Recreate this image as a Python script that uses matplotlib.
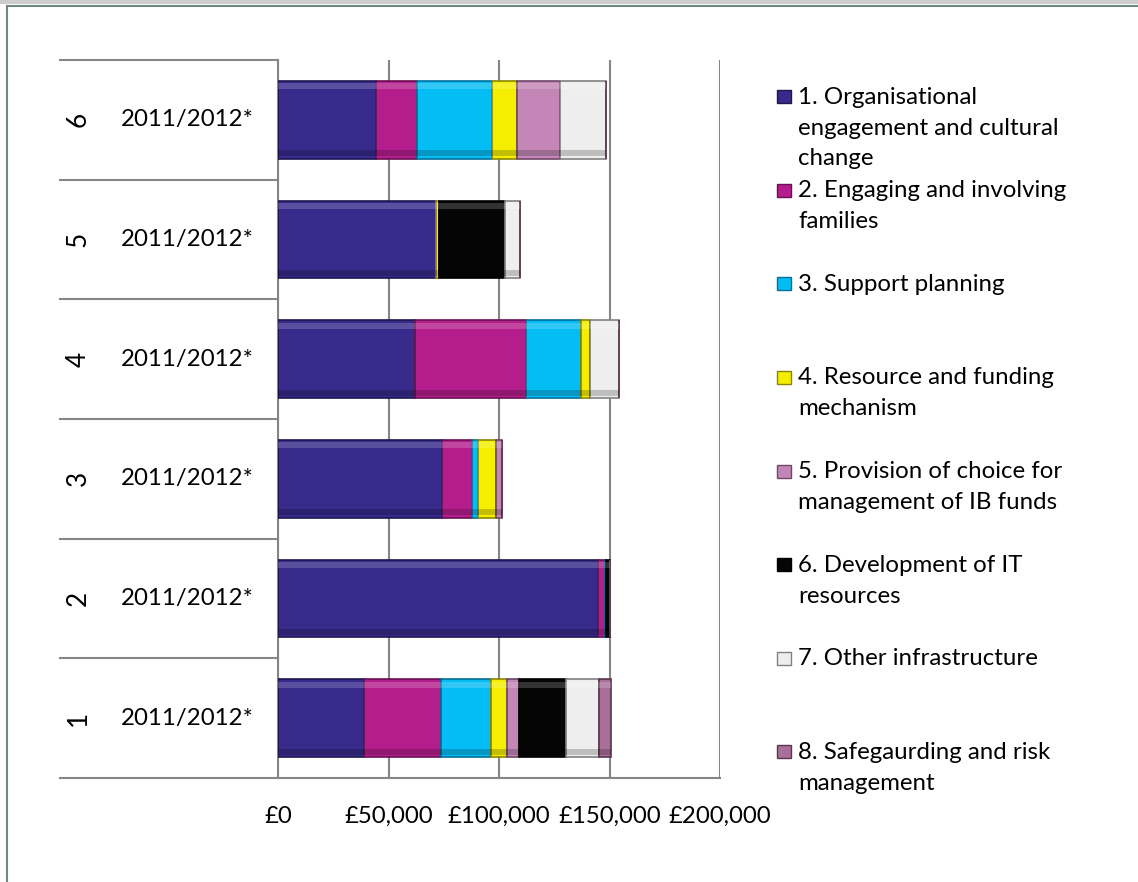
import numpy as np
import matplotlib
matplotlib.use("Agg")
import matplotlib.pyplot as plt
from matplotlib.patches import Rectangle
from matplotlib.lines import Line2D
from matplotlib.ticker import FuncFormatter

plt.rcParams['font.family'] = ['Lato', 'DejaVu Sans']

# data, rows 1..6 bottom to top
rows = ["1", "2", "3", "4", "5", "6"]
year = "2011/2012*"
series = [
    "1. Organisational\nengagement and cultural\nchange",
    "2. Engaging and involving\nfamilies",
    "3. Support planning",
    "4. Resource and funding\nmechanism",
    "5. Provision of choice for\nmanagement of IB funds",
    "6. Development of IT\nresources",
    "7. Other infrastructure",
    "8. Safegaurding and risk\nmanagement",
]
s1 = [38900, 144700, 74100, 62100, 71600, 44200]
s2 = [34700, 3300, 13700, 49900, 0, 18700]
s3 = [22900, 500, 2900, 25200, 0, 34000]
s4 = [7100, 0, 8000, 3800, 1200, 11300]
s5 = [5300, 0, 2500, 0, 0, 19400]
s6 = [21200, 1800, 0, 0, 30100, 0]
s7 = [15100, 0, 0, 13300, 6600, 20800]
s8 = [5600, 0, 0, 0, 0, 0]
values = [s1, s2, s3, s4, s5, s6, s7, s8]
xticks = [0, 50000, 100000, 150000, 200000]

colors = ["#372A8A", "#B41E8C", "#05BDF5", "#F5EE00", "#C486B6", "#050505", "#EEEEEE", "#A87098"]
edges = ["#1E1650", "#6A0F52", "#037099", "#8A8600", "#6E4766", "#000000", "#808080", "#5A3550"]

fs = 17.3

fig = plt.figure(figsize=(11.38, 8.82), dpi=100)
ax = fig.add_axes([278/1138, 1-778/882, 442/1138, 718/882])

y = np.arange(len(rows))
left = np.zeros(len(rows))
h = 0.65
for k in range(len(values)):
    v = np.array(values[k], dtype=float)
    ax.barh(y, v, left=left, height=h, color=colors[k], edgecolor=edges[k], linewidth=1.2, zorder=3)
    # simple bevel: light strip on top, dark strip at the bottom
    m = v > 0
    ax.barh(y[m] + h/2 - 0.045, v[m], left=left[m], height=0.05, color="white", alpha=0.18, linewidth=0, zorder=4)
    ax.barh(y[m] - h/2 + 0.045, v[m], left=left[m], height=0.05, color="black", alpha=0.2, linewidth=0, zorder=4)
    left = left + v

ax.set_xlim(0, 200000)
ax.set_ylim(-0.5, len(rows) - 0.5)
ax.set_xticks(xticks)
ax.xaxis.set_major_formatter(FuncFormatter(lambda v, p: "£{:,.0f}".format(v)))
ax.tick_params(axis='x', length=0, pad=20, labelsize=fs, colors='black')
ax.set_yticks([])
ax.grid(axis='x', color='#868686', linewidth=1.5, zorder=0)
for s in ["top", "right"]:
    ax.spines[s].set_visible(False)
ax.spines["left"].set_color('#868686')
ax.spines["left"].set_linewidth(1.5)
ax.spines["bottom"].set_color('#868686')
ax.spines["bottom"].set_linewidth(1.5)

# two-level category labels on the left
tr = ax.get_yaxis_transform()
xl = (60 - 278) / 442
for b in np.arange(-0.5, len(rows), 1.0):
    ax.plot([xl, 0], [b, b], transform=tr, color='#868686', linewidth=1.5, clip_on=False)
for i, r in enumerate(rows):
    ax.text((78 - 278) / 442, i, r, transform=tr, rotation=90, ha='center', va='center', fontsize=fs + 1.5)
    ax.text((187 - 278) / 442, i, year, transform=tr, ha='center', va='center', fontsize=fs)

# legend drawn by hand to keep the Excel spacing
for k, lab in enumerate(series):
    yy = 1 - (96.7 + 93.6 * k) / 882
    fig.patches.append(Rectangle((777/1138, yy - 6.5/882), 14/1138, 13/882, transform=fig.transFigure,
                                 facecolor=colors[k], edgecolor=edges[k], linewidth=1))
    fig.text(798/1138, yy + 10/882, lab, ha='left', va='top', fontsize=fs, linespacing=1.58)

# window frame at the top and left
fig.patches.append(Rectangle((0, 1 - 4/882), 1, 4/882, transform=fig.transFigure, facecolor='#CDCDCD', edgecolor='none'))
fig.lines.append(Line2D([6.5/1138, 1], [1 - 6/882, 1 - 6/882], transform=fig.transFigure, color='#6E8A7A', linewidth=1.5))
fig.lines.append(Line2D([6.5/1138, 6.5/1138], [0, 1 - 6/882], transform=fig.transFigure, color='#6E8A7A', linewidth=1.5))

fig.savefig("out.png", dpi=100)
